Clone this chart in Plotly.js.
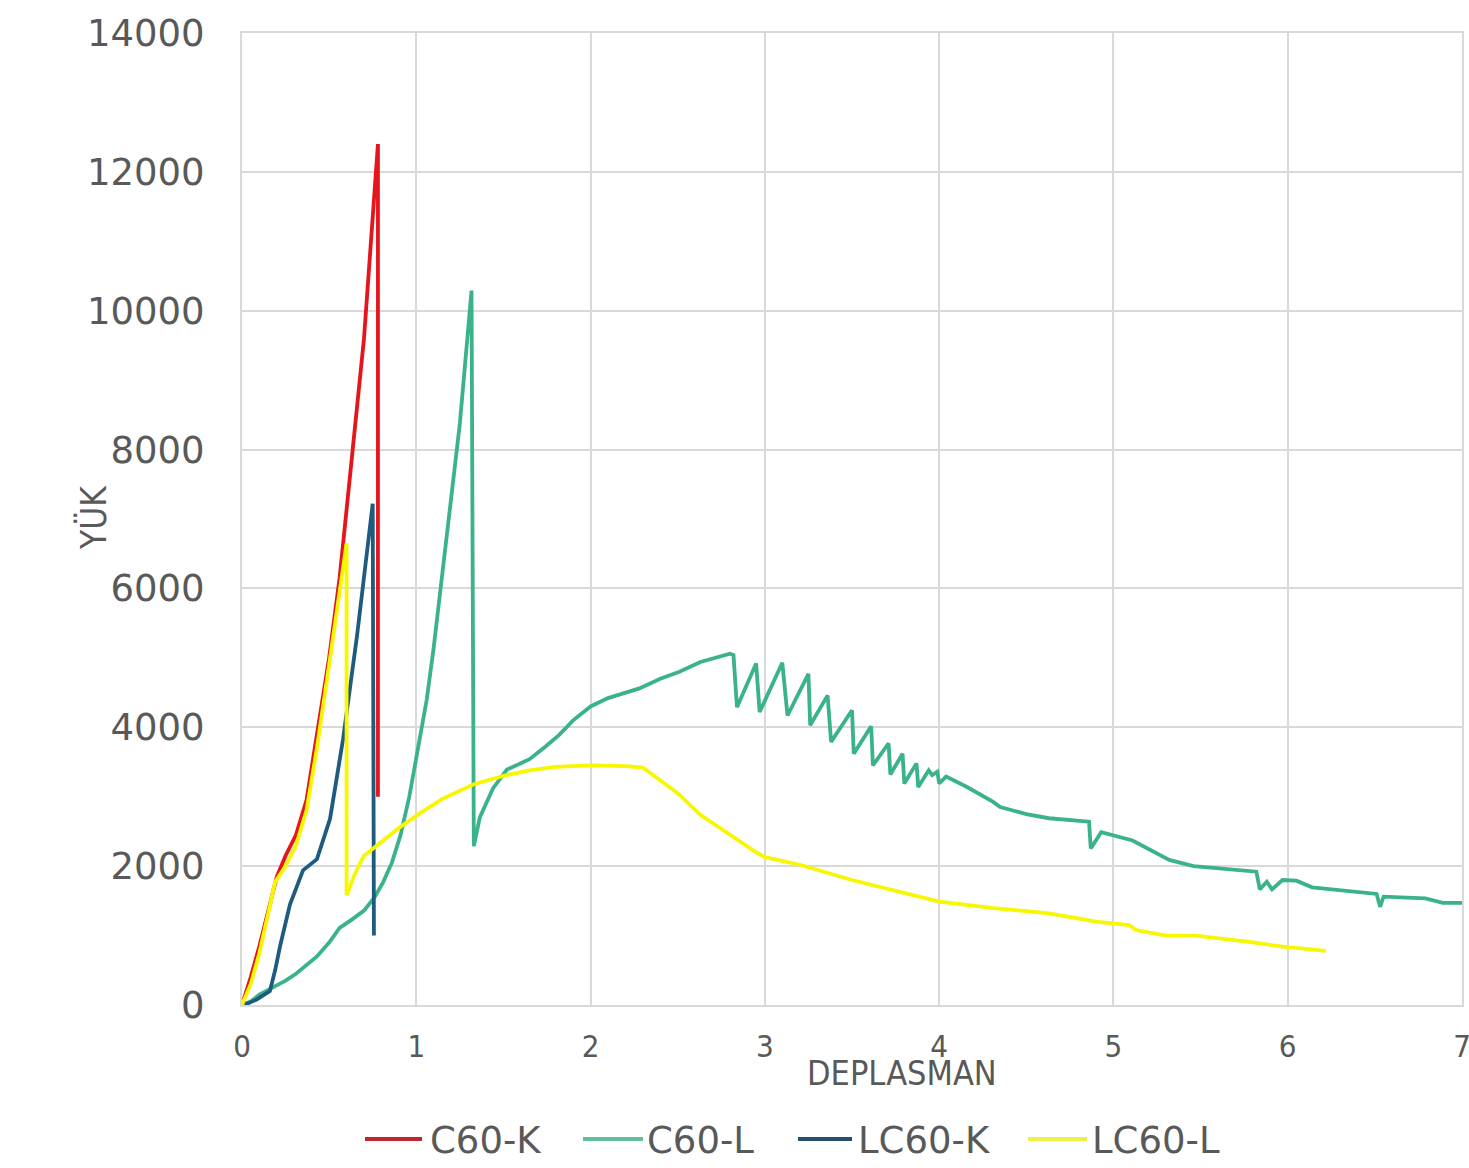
<!DOCTYPE html>
<html>
<head>
<meta charset="utf-8">
<script src="https://cdn.plot.ly/plotly-3.0.1.min.js"></script>
<style>html,body{margin:0;padding:0;background:#fff;}#chart{width:1469px;height:1168px;}</style>
</head>
<body>
<div id="chart"></div>
<script>
// C60-K
const c60kX = [0, 0.05, 0.10, 0.15, 0.20, 0.25, 0.31, 0.37, 0.43, 0.50, 0.56, 0.62, 0.70, 0.78, 0.78];
const c60kY = [0, 400, 850, 1350, 1850, 2150, 2450, 2950, 3900, 5000, 6150, 7600, 9600, 12400, 3000];

// C60-L
const c60lX = [0, 0.05, 0.10, 0.18, 0.25, 0.31, 0.37, 0.43, 0.50, 0.56, 0.63, 0.70, 0.76, 0.81, 0.86, 0.91, 0.96, 1.02, 1.06, 1.10, 1.17, 1.25, 1.317,
  1.33, 1.365, 1.44, 1.52, 1.65, 1.74, 1.82, 1.90, 2.00, 2.10, 2.28, 2.40, 2.51, 2.63, 2.80, 2.82,
  2.84, 2.95, 2.97, 3.10, 3.13, 3.25, 3.26, 3.36, 3.38, 3.50, 3.51, 3.61, 3.62, 3.71, 3.72, 3.79, 3.80, 3.87, 3.88, 3.94, 3.96, 3.99, 4.00, 4.04,
  4.16, 4.31, 4.35, 4.50, 4.63, 4.86, 4.87, 4.93, 5.11, 5.32, 5.46, 5.82, 5.84, 5.88, 5.91, 5.97, 6.05, 6.14, 6.51, 6.53, 6.55, 6.79, 6.89, 7.00];
const c60lY = [0, 50, 150, 260, 350, 450, 580, 700, 900, 1110, 1230, 1360, 1550, 1770, 2050, 2450, 3000, 3836, 4400, 5150, 6700, 8375, 10290,
  2288, 2705, 3120, 3390, 3540, 3720, 3890, 4100, 4300, 4420, 4560, 4700, 4800, 4940, 5060, 5040,
  4290, 4920, 4220, 4930, 4170, 4770, 4030, 4460, 3790, 4245, 3620, 4015, 3450, 3770, 3320, 3620, 3190, 3480, 3140, 3380, 3310, 3360, 3190, 3290,
  3140, 2925, 2850, 2750, 2690, 2640, 2255, 2490, 2370, 2090, 2000, 1920, 1665, 1775, 1665, 1800, 1790, 1695, 1600, 1415, 1560, 1535, 1472, 1472];

// LC60-K
const lc60kX = [0, 0.04, 0.084, 0.16, 0.19, 0.22, 0.275, 0.35, 0.43, 0.505, 0.58, 0.66, 0.715, 0.75, 0.757];
const lc60kY = [0, 30, 80, 200, 500, 865, 1445, 1940, 2100, 2680, 3830, 5320, 6480, 7220, 1000];

// LC60-L
const lc60lX = [0, 0.05, 0.10, 0.15, 0.19, 0.25, 0.31, 0.37, 0.43, 0.50, 0.55, 0.60, 0.60, 0.65, 0.70, 0.80, 0.90, 1.02, 1.15, 1.33, 1.50, 1.65, 1.80, 2.00, 2.20, 2.30,
  2.40, 2.50, 2.63, 2.80, 2.95, 3.00, 3.20, 3.50, 3.70, 4.00, 4.30, 4.63, 4.90, 5.09, 5.13, 5.30, 5.47, 5.78, 5.97, 6.22];
const lc60lY = [0, 300, 750, 1300, 1770, 2000, 2300, 2800, 3700, 4900, 5800, 6650, 1580, 1900, 2150, 2350, 2550, 2760, 2970, 3180, 3300, 3380, 3430, 3450, 3440, 3420,
  3240, 3050, 2740, 2450, 2200, 2130, 2020, 1800, 1680, 1490, 1400, 1320, 1200, 1150, 1080, 1000, 1000, 910, 840, 780];

const xTicks = [0, 1, 2, 3, 4, 5, 6, 7];
const yTicks = [0, 2000, 4000, 6000, 8000, 10000, 12000, 14000];

const seriesNames = ['C60-K', 'C60-L', 'LC60-K', 'LC60-L'];
const seriesColors = ['#e8141c', '#3ab38c', '#1d5c7f', '#f7f700'];
const legendColors = ['#c0262d', '#5fbf9f', '#24506a', '#eef046'];
const xs = [c60kX, c60lX, lc60kX, lc60lX];
const ys = [c60kY, c60lY, lc60kY, lc60lY];

const traces = seriesNames.map((n, i) => ({
  x: xs[i], y: ys[i], name: n, type: 'scatter', mode: 'lines',
  line: {color: seriesColors[i], width: 3.8}
}));

// custom legend (paper coordinates)
const W = 1220, H = 972, L = 242, B = 1005;
const px2x = p => (p - L) / W;
const px2y = p => (B - p) / H;
const legLineStart = [365, 583, 798, 1028];
const legLineEnd = [422, 643, 852, 1087];
const legTextStart = [428, 645, 856, 1090];
const legY = 1139;

const shapes = seriesNames.map((n, i) => ({
  type: 'line', xref: 'paper', yref: 'paper',
  x0: px2x(legLineStart[i]), x1: px2x(legLineEnd[i]), y0: px2y(legY), y1: px2y(legY),
  line: {color: legendColors[i], width: 4}
}));

const annotations = seriesNames.map((n, i) => ({
  text: n, xref: 'paper', yref: 'paper', x: px2x(legTextStart[i]), y: px2y(legY + 1),
  xanchor: 'left', yanchor: 'middle', showarrow: false,
  font: {family: 'DejaVu Sans', size: 37, color: '#595959'}
}));

annotations.push(
  {text: 'DEPLASMAN', xref: 'paper', yref: 'paper', x: px2x(902), y: px2y(1073), xanchor: 'center', yanchor: 'middle',
   showarrow: false, font: {family: 'DejaVu Sans Condensed', size: 34, color: '#595959'}},
  {text: 'YÜK', xref: 'paper', yref: 'paper', x: px2x(93), y: px2y(518), xanchor: 'center', yanchor: 'middle',
   textangle: -90, showarrow: false, font: {family: 'DejaVu Sans Condensed', size: 35, color: '#595959'}}
);

const layout = {
  width: 1469, height: 1168,
  margin: {l: 242, r: 7, t: 33, b: 163},
  paper_bgcolor: '#ffffff', plot_bgcolor: '#ffffff',
  showlegend: false,
  xaxis: {
    range: [0, 7], tickvals: xTicks, ticktext: xTicks.map(String),
    showgrid: true, gridcolor: '#d9d9d9', gridwidth: 2,
    zeroline: false, showline: true, mirror: true, linecolor: '#d9d9d9', linewidth: 2, ticks: '',
    ticklabelstandoff: 13, ticklabeloverflow: 'allow',
    tickfont: {family: 'DejaVu Sans Condensed', size: 31, color: '#595959'}
  },
  yaxis: {
    range: [0, 14000], tickvals: yTicks, ticktext: yTicks.map(String),
    showgrid: true, gridcolor: '#d9d9d9', gridwidth: 2,
    zeroline: false, showline: true, mirror: true, linecolor: '#d9d9d9', linewidth: 2, ticks: '',
    ticklabelstandoff: 28, ticklabeloverflow: 'allow',
    tickfont: {family: 'DejaVu Sans', size: 37, color: '#595959'}
  },
  shapes: shapes,
  annotations: annotations
};

Plotly.newPlot('chart', traces, layout, {displayModeBar: false, staticPlot: true});
</script>
</body>
</html>
